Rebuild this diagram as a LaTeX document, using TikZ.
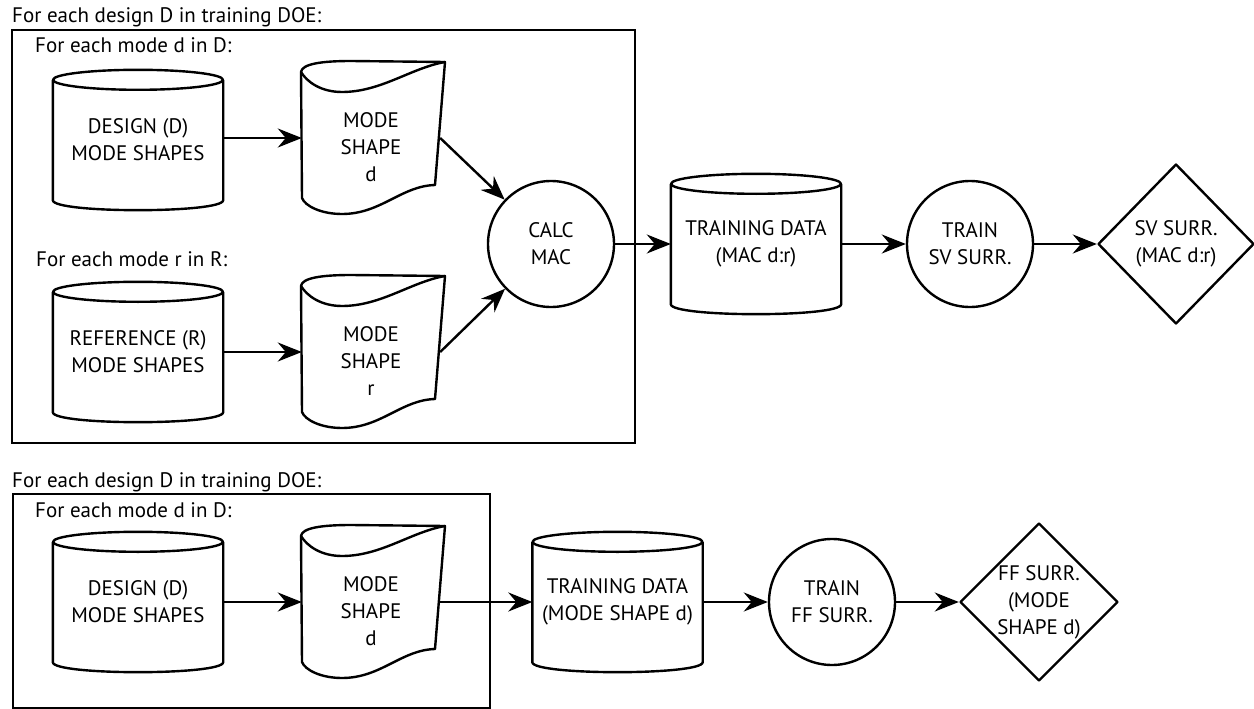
\documentclass[tikz,border=0pt]{standalone}
\usepackage{fontspec}
\setmainfont{PT Sans}
\usetikzlibrary{shapes.geometric,arrows.meta,calc}

\tikzset{
  lbl/.style={font=\fontsize{21}{27}\selectfont, align=center, inner sep=0pt},
  hd/.style={font=\fontsize{21}{27}\selectfont, anchor=base west, inner sep=0pt},
  outline/.style={line width=2.4pt, line join=round},
  loopframe/.style={draw, line width=2.2pt, anchor=north west, inner sep=0pt},
  flow/.style={line width=2.4pt, -{Stealth[length=24pt,width=19pt,inset=8pt]}},
  cylbox/.style={lbl, minimum width=170pt, minimum height=140pt},
  docbox/.style={minimum width=138pt, minimum height=152pt, inner sep=0pt},
  procnode/.style={lbl, circle, draw, outline, minimum size=126pt},
  result/.style={lbl, diamond, draw, outline, minimum width=156pt, minimum height=160pt},
}

% database cylinder drawn around a named box: #1 node, #2 half width
\newcommand{\cylout}[2]{%
  \draw[outline] ($(#1.north west)+(0,10)$) -- ($(#1.south west)+(0,-10)$)
    .. controls +(0,13.3) and +(0,13.3) .. ($(#1.south east)+(0,-10)$)
    -- ($(#1.north east)+(0,10)$);
  \draw[outline] ($(#1.north)+(0,10)$) ellipse [x radius=#2, y radius=10];
}

% curled document sheet drawn around a named box
\newcommand{\docout}[1]{%
  \draw[outline, shift={(#1.center)}] (-70,-66)
    .. controls (-69,-74) and (-50,-77) .. (-20,-77) -- (74,-76) -- (64,47)
    .. controls (30,48) and (10,76) .. (-29,76)
    .. controls (-50,76) and (-66,68) .. (-69,60) -- cycle;
  \draw[outline, shift={(#1.center)}] (74,-76)
    .. controls (40,-70) and (10,-46) .. (-29,-46)
    .. controls (-50,-46) and (-64,-56) .. (-70,-66);
}

\begin{document}
\begin{tikzpicture}[x=1pt, y=-1pt]
\useasboundingbox (0,0) rectangle (1254,709);

% ---------- similarity (MAC) surrogate ----------
\node[hd] (doe1) at (12,23) {For each design D in training DOE:};
\node[loopframe, minimum width=623pt, minimum height=413pt] (loop1) at (11,29) {};
\node[hd] (moded1) at (35,53) {For each mode d in D:};
\node[hd] (moder) at (36,266) {For each mode r in R:};

\node[cylbox] (cyld1) at (138,140) {DESIGN (D)\\MODE SHAPES};
\cylout{cyld1}{85}
\node[docbox] (docd1) at (371,138) {};
\docout{docd1}
\node[lbl] (docd1t) at (371,147) {MODE\\SHAPE\\d};

\node[cylbox] (cylr) at (138,352) {REFERENCE (R)\\MODE SHAPES};
\cylout{cylr}{85}
\node[docbox] (docr) at (371,352) {};
\docout{docr}
\node[lbl] (docrt) at (371,361) {MODE\\SHAPE\\r};

\node[procnode] (calc) at (551,244) {CALC\\MAC};
\node[cylbox] (td1) at (756,244) {TRAINING DATA\\(MAC d:r)};
\cylout{td1}{85}
\node[procnode] (train1) at (970,244) {TRAIN\\SV SURR.};
\node[result] (sv) at (1176,244) {SV SURR.\\(MAC d:r)};

\draw[flow] (cyld1.east |- docd1.west) -- (docd1.west);
\draw[flow] (cylr.east) -- (docr.west);
\draw[flow] (docd1.east) -- (calc);
\draw[flow] (docr.east) -- (calc);
\draw[flow] (calc) -- (td1);
\draw[flow] (td1) -- (train1);
\draw[flow] (train1) -- (sv);

% ---------- full-field surrogate ----------
\node[hd] (doe2) at (12,487) {For each design D in training DOE:};
\node[loopframe, minimum width=477pt, minimum height=214pt] (loop2) at (12,493) {};
\node[hd] (moded2) at (35,517) {For each mode d in D:};

\node[cylbox] (cyld2) at (138,602) {DESIGN (D)\\MODE SHAPES};
\cylout{cyld2}{85}
\node[docbox] (docd2) at (371,602) {};
\docout{docd2}
\node[lbl] (docd2t) at (371,611) {MODE\\SHAPE\\d};

\node[cylbox] (td2) at (617.5,602) {TRAINING DATA\\(MODE SHAPE d)};
\cylout{td2}{85}
\node[procnode] (train2) at (832,602) {TRAIN\\FF SURR.};
\node[result, minimum width=158pt, minimum height=158pt] (ff) at (1039,602) {FF SURR.\\(MODE\\SHAPE d)};

\draw[flow] (cyld2.east) -- (docd2.west);
\draw[flow] (docd2.east) -- (td2.west);
\draw[flow] (td2) -- (train2);
\draw[flow] (train2) -- (ff);
\end{tikzpicture}
\end{document}
